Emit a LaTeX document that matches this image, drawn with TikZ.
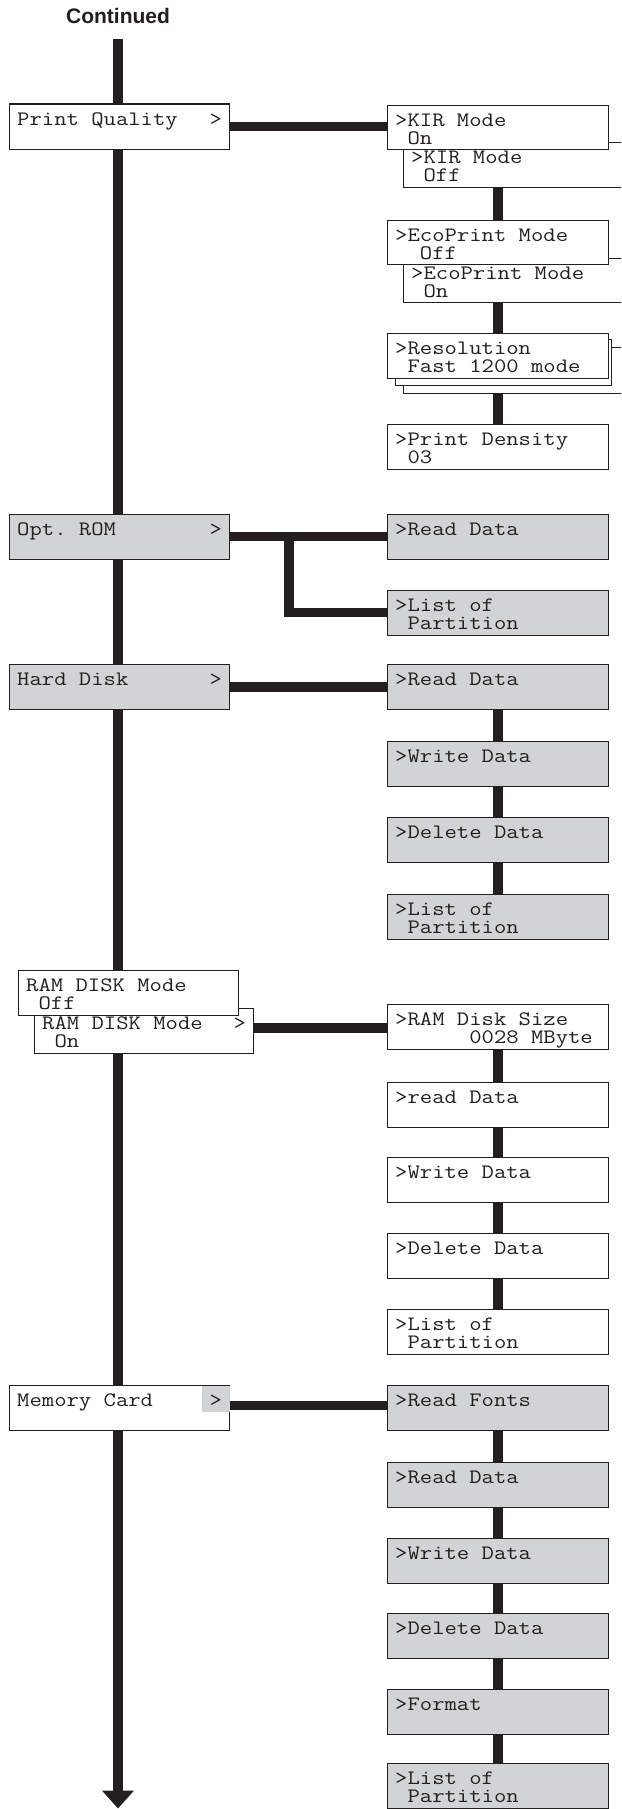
\documentclass[tikz,border=0pt]{standalone}
\usepackage{fontspec}
\setmonofont{Latin Modern Mono}[FakeStretch=1.17]
\newfontfamily\contfont{Liberation Sans}
\usetikzlibrary{arrows.meta}
\definecolor{ink}{HTML}{231F20}
\definecolor{panel}{HTML}{D1D3D4}
\tikzset{
  box/.style={draw=ink, line width=1.2pt, fill=white, rectangle, inner sep=0pt,
    anchor=north west, minimum width=220pt, minimum height=45pt},
  grey/.style={fill=panel},
  conn/.style={draw=ink, line width=9.5pt, line join=miter},
  trunk/.style={draw=ink, line width=10pt, -{Triangle[width=31pt,length=18pt]}},
  lcd/.style={inner sep=0pt, anchor=base west, text=ink,
    font=\ttfamily\fontsize{20.5}{18.3}\selectfont},
  conttext/.style={inner sep=0pt, anchor=base, text=ink,
    font=\contfont\bfseries\fontsize{21}{25}\selectfont},
}
\newcommand\two[2]{\vtop{\lineskiplimit=-50pt\relax\hbox{#1}\hbox{#2}}}
% name, x, y, extra style, text
\newcommand\mkbox[5]{%
  \node[box,#4] (#1) at (#2,#3) {};
  \node[lcd] (#1-t) at ([xshift=8pt,yshift=-21.5pt]#1.north west) {#5};
}
\newcommand\mkgt[1]{%
  \node[lcd, anchor=base east] (#1-g) at ([xshift=-8pt,yshift=-21.5pt]#1.north east) {>};
}
\begin{document}
\begin{tikzpicture}[x=1pt,y=-1pt]
\useasboundingbox (0,0) rectangle (621,1809);
\clip (0,0) rectangle (621,1809);

\node[conttext] (cont) at (118,24) {Continued};
\coordinate (ttop) at (118,39);
\coordinate (tbot) at (118,1808.5);
\draw[trunk] (ttop) -- (tbot);

% ---------- left column ----------
\mkbox{pq}{9}{103.5}{}{Print Quality}
\mkgt{pq}
\mkbox{opt}{9}{513.5}{grey}{Opt. ROM}
\mkgt{opt}
\mkbox{hd}{9}{664}{grey}{Hard Disk}
\mkgt{hd}
\mkbox{ramon}{34}{1008}{minimum width=219pt}{\two{RAM DISK Mode}{\ On}}
\mkgt{ramon}
\mkbox{ramoff}{18}{970}{}{\two{RAM DISK Mode}{\ Off}}
\mkbox{mc}{9}{1385}{}{Memory Card}
\fill[panel] ([xshift=-0.6pt,yshift=-0.6pt]mc.north east) rectangle ++(-27.4,26.4);
\mkgt{mc}

% ---------- Print Quality column ----------
\mkbox{kirb}{403}{142}{minimum width=237pt}{\two{>KIR Mode}{\ Off}}
\mkbox{kir}{387}{105}{minimum width=221pt, minimum height=44pt}{\two{>KIR Mode}{\ On}}
\mkbox{ecob}{403}{258}{minimum width=237pt, minimum height=44pt}{\two{>EcoPrint Mode}{\ On}}
\mkbox{eco}{387}{220}{minimum width=221pt, minimum height=44pt}{\two{>EcoPrint Mode}{\ \ Off}}
\node[box, minimum width=237pt, minimum height=46pt] (resc) at (403,347) {};
\node[box, minimum width=216pt, minimum height=46pt] (resb) at (395,339) {};
\mkbox{res}{387}{333}{minimum width=221pt}{\two{>Resolution}{\ Fast 1200 mode}}
\mkbox{pd}{387}{424}{minimum width=221pt}{\two{>Print Density}{\ 03}}

% ---------- Opt. ROM column ----------
\mkbox{optread}{387}{513.5}{grey, minimum width=221pt}{>Read Data}
\mkbox{optlist}{387}{589.5}{grey, minimum width=221pt}{\two{>List of}{\ Partition}}

% ---------- Hard Disk column ----------
\mkbox{hdr}{387}{664}{grey, minimum width=221pt}{>Read Data}
\mkbox{hdw}{387}{741}{grey, minimum width=221pt}{>Write Data}
\mkbox{hdd}{387}{817}{grey, minimum width=221pt}{>Delete Data}
\mkbox{hdl}{387}{893.5}{grey, minimum width=221pt}{\two{>List of}{\ Partition}}

% ---------- RAM disk column ----------
\mkbox{rams}{387}{1004}{minimum width=221pt}{\two{>RAM Disk Size}{\ \ \ \ \ \ 0028 MByte}}
\mkbox{ramr}{387}{1081.5}{minimum width=221pt}{>read Data}
\mkbox{ramw}{387}{1157}{minimum width=221pt}{>Write Data}
\mkbox{ramd}{387}{1233}{minimum width=221pt}{>Delete Data}
\mkbox{raml}{387}{1309}{minimum width=221pt}{\two{>List of}{\ Partition}}

% ---------- Memory card column ----------
\mkbox{mcf}{387}{1384.5}{grey, minimum width=221pt}{>Read Fonts}
\mkbox{mcr}{387}{1461.5}{grey, minimum width=221pt}{>Read Data}
\mkbox{mcw}{387}{1537.5}{grey, minimum width=221pt}{>Write Data}
\mkbox{mcd}{387}{1613}{grey, minimum width=221pt}{>Delete Data}
\mkbox{mcfo}{387}{1689}{grey, minimum width=221pt}{>Format}
\mkbox{mcl}{387}{1763}{grey, minimum width=221pt, minimum height=44.5pt}{\two{>List of}{\ Partition}}

% ---------- connectors ----------
\draw[conn] (pq.east) -- (pq.east -| kir.west);
\draw[conn] (kir.south |- kirb.south) -- (eco.north);
\draw[conn] (eco.south |- ecob.south) -- (res.north);
\draw[conn] (res.south |- resc.south) -- (pd.north);

\draw[conn] (opt.east) -- (opt.east -| optread.west);
\path (opt.east) ++(59,0) coordinate (br);
\draw[conn] (br) |- (optlist.west);

\draw[conn] (hd.east) -- (hd.east -| hdr.west);
\draw[conn] (hdr.south) -- (hdw.north);
\draw[conn] (hdw.south) -- (hdd.north);
\draw[conn] (hdd.south) -- (hdl.north);

\draw[conn] ([yshift=3pt]ramon.east) -- ([yshift=3pt]ramon.east -| rams.west);
\draw[conn] (rams.south) -- (ramr.north);
\draw[conn] (ramr.south) -- (ramw.north);
\draw[conn] (ramw.south) -- (ramd.north);
\draw[conn] (ramd.south) -- (raml.north);

\draw[conn] ([yshift=2.5pt]mc.east) -- ([yshift=2.5pt]mc.east -| mcf.west);
\draw[conn] (mcf.south) -- (mcr.north);
\draw[conn] (mcr.south) -- (mcw.north);
\draw[conn] (mcw.south) -- (mcd.north);
\draw[conn] (mcd.south) -- (mcfo.north);
\draw[conn] (mcfo.south) -- (mcl.north);
\end{tikzpicture}
\end{document}
